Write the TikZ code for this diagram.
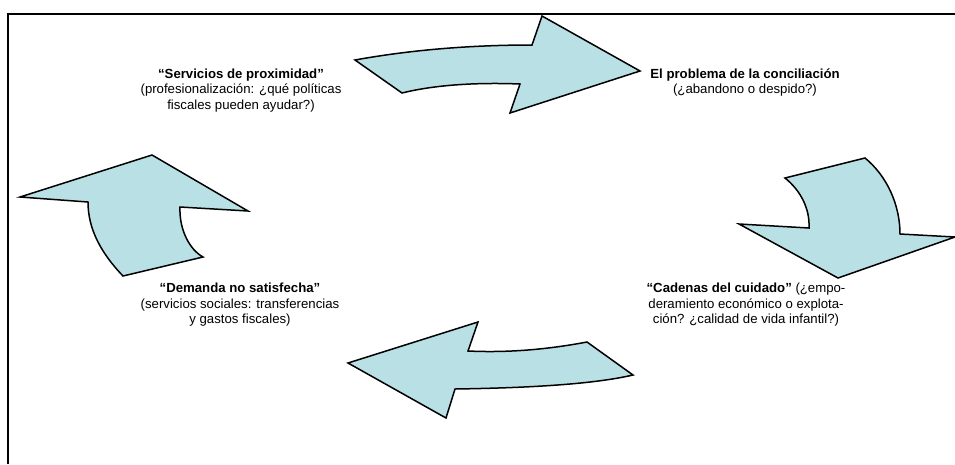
\documentclass[tikz,border=0pt]{standalone}
\usepackage{fontspec}
\setmainfont{Liberation Sans}
\definecolor{arrowfill}{RGB}{185,224,228}
\begin{document}
\begin{tikzpicture}[x=1pt,y=-1pt,
  bigarrow/.style={draw=black,line width=1.5pt,fill=arrowfill,line join=miter},
  frameline/.style={draw=black,line width=2pt},
  lbl/.style={align=center,font=\fontsize{13.2}{15.6}\selectfont,inner sep=0pt}]
\useasboundingbox (0,0) rectangle (955,464);
% frame
\coordinate (fr1) at (955,14);
\coordinate (fr2) at (8,14);
\coordinate (fr3) at (8,464);
\draw[frameline] (fr1) -- (fr2) -- (fr3);
% top arrow
\draw[bigarrow] (355,60) .. controls (410,50) and (470,45) .. (532,45)
  -- (542,16) -- (640,71) -- (510,113) -- (520,84)
  .. controls (470,82) and (430,86) .. (402,93) -- cycle;
% right arrow
\draw[bigarrow] (785,178) -- (865,158) .. controls (887,176) and (900,205) .. (900,234)
  -- (955,237) -- (838,278) -- (739,224) -- (809,228)
  .. controls (810,208) and (800,190) .. (785,178) -- cycle;
% bottom arrow
\draw[bigarrow] (348,363) -- (478,322) -- (468,351)
  .. controls (510,353) and (550,349) .. (587,342) -- (633,375)
  .. controls (590,385) and (520,388) .. (455,389) -- (446,418) -- cycle;
% left arrow
\draw[bigarrow] (20,197) -- (152,155) -- (248,211) -- (180,207)
  .. controls (179,230) and (190,250) .. (203,257) -- (123,276)
  .. controls (100,252) and (88,228) .. (88,202) -- cycle;
% labels
\node[lbl,anchor=north] (serv) at (241,68.5) {\textbf{“Servicios de proximidad”}\\(profesionalización: ¿qué políticas\\fiscales pueden ayudar?)};
\node[lbl,anchor=north] (conc) at (745,68.5) {\textbf{El problema de la conciliación}\\(¿abandono o despido?)};
\node[lbl,anchor=north] (dem) at (240,283) {\textbf{“Demanda no satisfecha”}\\(servicios sociales: transferencias\\y gastos fiscales)};
\node[lbl,anchor=north] (cad) at (746,283) {\textbf{“Cadenas del cuidado”} (¿empo-\\deramiento económico o explota-\\ción? ¿calidad de vida infantil?)};
\end{tikzpicture}
\end{document}
